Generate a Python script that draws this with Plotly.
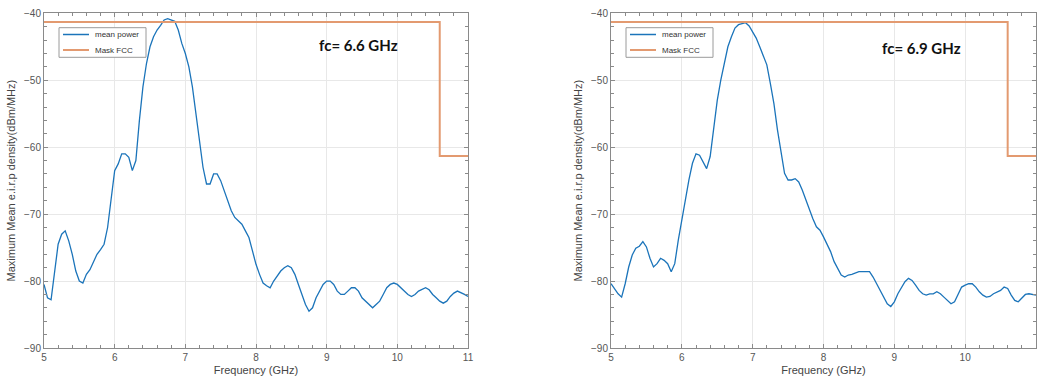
import plotly.graph_objects as go
from plotly.subplots import make_subplots

freq = [round(5 + 0.05 * i, 2) for i in range(121)]

power_66 = [
    -80.5, -82.5, -82.8, -79.0, -74.5, -73.0, -72.5, -74.0, -76.0, -78.5,
    -80.0, -80.3, -79.0, -78.3, -77.0, -76.0, -75.3, -74.5, -72.0, -67.5,
    -63.5, -62.5, -61.0, -61.0, -61.5, -63.5, -62.0, -56.0, -51.0, -47.5,
    -45.0, -43.5, -42.5, -41.8, -41.0, -40.8, -41.0, -41.2, -42.5, -44.5,
    -46.0, -48.0, -51.0, -55.0, -59.0, -63.0, -65.5, -65.5, -64.0, -64.0,
    -65.0, -66.5, -68.0, -69.5, -70.5, -71.0, -71.5, -72.5, -73.5, -75.5,
    -77.5, -79.0, -80.3, -80.7, -81.0, -80.0, -79.3, -78.5, -78.0, -77.7,
    -78.0, -79.0, -80.5, -82.0, -83.5, -84.5, -84.0, -82.5, -81.5, -80.5,
    -80.0, -80.0, -80.5, -81.5, -82.0, -82.0, -81.5, -81.0, -81.0, -81.5,
    -82.5, -83.0, -83.5, -84.0, -83.5, -83.0, -82.0, -81.0, -80.5, -80.3,
    -80.5, -81.0, -81.5, -82.0, -82.3, -82.0, -81.5, -81.2, -81.0, -81.3,
    -82.0, -82.5, -83.0, -83.3, -83.0, -82.3, -81.8, -81.5, -81.7, -82.0,
    -82.3,
]

power_69 = [
    -80.4, -81.1, -81.9, -82.4, -80.4, -77.9, -76.1, -75.1, -74.8, -74.1,
    -74.9, -76.6, -77.9, -77.4, -76.6, -76.9, -77.4, -78.6, -77.4, -73.9,
    -70.9, -67.4, -64.9, -62.4, -61.0, -61.2, -62.2, -63.2, -61.4, -57.4,
    -53.0, -50.0, -47.5, -45.0, -43.5, -42.2, -41.7, -41.5, -41.4, -41.9,
    -42.7, -43.7, -45.0, -46.5, -47.7, -50.5, -53.5, -57.4, -60.9, -63.9,
    -64.9, -64.9, -64.7, -65.2, -66.4, -67.9, -69.2, -70.7, -71.9, -72.4,
    -73.4, -74.4, -75.6, -77.1, -78.1, -79.1, -79.4, -79.1, -79.0, -78.8,
    -78.6, -78.6, -78.6, -78.6, -79.4, -80.4, -81.4, -82.4, -83.4, -83.8,
    -83.1, -81.9, -80.9, -80.1, -79.6, -79.9, -80.6, -81.4, -81.9, -82.1,
    -81.9, -81.9, -81.6, -81.9, -82.4, -82.9, -83.4, -83.1, -81.9, -80.9,
    -80.6, -80.4, -80.4, -80.9, -81.6, -82.1, -82.4, -82.3, -81.9, -81.6,
    -81.4, -80.9, -81.1, -82.1, -82.9, -83.1, -82.6, -82.0, -81.9, -82.0,
    -82.1,
]

mask_freq = [5, 10.6, 10.6, 11]
mask_level = [-41.3, -41.3, -61.3, -61.3]

panel_labels = ["fc= 6.6 GHz", "fc= 6.9 GHz"]
legend_names = ["mean power", "Mask FCC"]
x_ticks = [5, 6, 7, 8, 9, 10, 11]
y_ticks = [-90, -80, -70, -60, -50, -40]

BLUE = "#1B74BA"
ORANGE = "#E39A70"
colors = [BLUE, ORANGE]

fig = make_subplots(rows=1, cols=2)

for col, series in enumerate([power_66, power_69], start=1):
    fig.add_trace(go.Scatter(x=freq, y=series, mode="lines", name=legend_names[0],
                             line=dict(color=BLUE, width=1.3), showlegend=False), row=1, col=col)
    fig.add_trace(go.Scatter(x=mask_freq, y=mask_level, mode="lines", name=legend_names[1],
                             line=dict(color=ORANGE, width=2), showlegend=False), row=1, col=col)

W, H = 1038, 384
dom_x = [[44 / W, 468 / W], [611 / W, 1036 / W]]
dom_y = [1 - 348 / H, 1 - 13.3 / H]

axis_common = dict(
    showline=True, linecolor="#8a8a8a", linewidth=1, mirror="ticks",
    ticks="inside", ticklen=4, tickcolor="#8a8a8a", automargin=False,
    showgrid=True, gridcolor="#e8e8e8", gridwidth=1, zeroline=False,
    tickfont=dict(family="Liberation Sans, Arial", size=10, color="#555555"),
)

for i in range(2):
    xa = "xaxis" if i == 0 else "xaxis2"
    ya = "yaxis" if i == 0 else "yaxis2"
    fig.update_layout(**{
        xa: dict(axis_common, domain=dom_x[i], range=[5, 11], tickvals=x_ticks,
                 minor=dict(dtick=0.2, ticks="inside", ticklen=3, tickcolor="#8a8a8a", showgrid=False),
                 title=dict(text="Frequency (GHz)", standoff=4,
                            font=dict(family="Liberation Sans, Arial", size=11, color="#444444"))),
        ya: dict(axis_common, domain=dom_y, range=[-90, -40], tickvals=y_ticks,
                 minor=dict(dtick=2, ticks="inside", ticklen=3, tickcolor="#8a8a8a", showgrid=False),
                 title=dict(text="Maximum Mean e.i.r.p density(dBm/MHz)", standoff=6,
                            font=dict(family="Liberation Sans, Arial", size=11, color="#444444"))),
    })

# hand-drawn legends (compact, MATLAB-like)
legend_boxes = [(59, 146), (626, 713)]
for (x0, x1) in legend_boxes:
    fig.add_shape(type="rect", xref="paper", yref="paper",
                  x0=x0 / W, x1=x1 / W, y0=1 - 57.3 / H, y1=1 - 27.7 / H,
                  line=dict(color="#9a9a9a", width=1), fillcolor="white", layer="above")
    for k, (name, c) in enumerate(zip(legend_names, colors)):
        yy = 1 - (34.5 + 15.5 * k) / H
        fig.add_shape(type="line", xref="paper", yref="paper",
                      x0=(x0 + 4) / W, x1=(x0 + 30) / W, y0=yy, y1=yy,
                      line=dict(color=c, width=1.5 if k == 0 else 2), layer="above")
        fig.add_annotation(x=(x0 + 34) / W, y=yy, xref="paper", yref="paper",
                           xanchor="left", yanchor="middle", showarrow=False, text=name,
                           font=dict(family="Liberation Sans, Arial", size=8, color="#333333"))

ann_pos = [(317, 45), (880, 48)]
for (px, py), txt in zip(ann_pos, panel_labels):
    fig.add_annotation(x=px / W, y=1 - py / H, xref="paper", yref="paper",
                       xanchor="left", yanchor="middle", showarrow=False, text="<b>%s</b>" % txt,
                       font=dict(family="Lato, Open Sans", size=15, color="#111111"))

fig.update_layout(
    width=W, height=H, margin=dict(l=0, r=0, t=0, b=0),
    paper_bgcolor="white", plot_bgcolor="white", showlegend=False,
)

fig.write_html("out.html")
